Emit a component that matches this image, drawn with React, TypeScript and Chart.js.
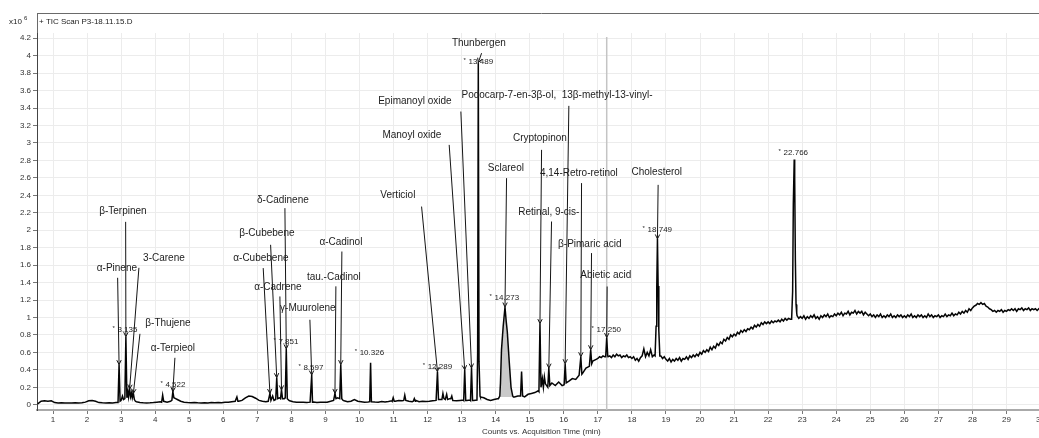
import React, { useEffect, useRef } from "react";
import { Chart, registerables } from "chart.js";

Chart.register(...registerables);

const FONT = "'Liberation Sans', Arial, Helvetica, sans-serif";

const chartTitle = "+ TIC Scan P3-18.11.15.D";
const yUnitBase = "x10";
const yUnitExp = "6";
const xAxisTitle = "Counts vs. Acquisition Time (min)";

const X_MIN = 0.53;
const X_MAX = 30.15;
const Y_MIN = -0.06;
const Y_MAX = 4.26;

const xTickValues = [1, 2, 3, 4, 5, 6, 7, 8, 9, 10, 11, 12, 13, 14, 15, 16, 17, 18, 19, 20, 21, 22, 23, 24, 25, 26, 27, 28, 29, 30];
const yTickValues = [0, 0.2, 0.4, 0.6, 0.8, 1, 1.2, 1.4, 1.6, 1.8, 2, 2.2, 2.4, 2.6, 2.8, 3, 3.2, 3.4, 3.6, 3.8, 4, 4.2];

// Baseline samples, segment A: from 0.55 min every 0.1 min (counts x10^6)
const SEG_A_START = 0.55;
const SEG_A_STEP = 0.1;
const segACounts: (number | null)[] = [
  0.01, 0.04, 0.045, 0.04, 0.045, 0.025, 0.02, 0.022, 0.02, 0.021,
  0.02, 0.022, 0.02, 0.022, 0.03, 0.045, 0.05, 0.04, 0.025, 0.022,
  0.02, 0.022, 0.02, 0.025, 0.03, 0.06, 0.07, 0.07, 0.06, 0.035,
  0.025, 0.022, 0.02, 0.022, 0.025, 0.03, 0.035, 0.04, 0.03, 0.04,
  0.07, 0.06, 0.04, 0.03, 0.025, 0.022, 0.025, 0.022, 0.02, 0.022,
  0.02, 0.025, 0.022, 0.025, 0.022, 0.03, 0.028, 0.035, 0.04, 0.04,
  0.05, 0.08, 0.1, 0.095, 0.075, 0.05, 0.04, 0.035, 0.04, 0.06,
  0.06, 0.07, 0.06, 0.06, 0.045, 0.035, 0.03, 0.028, 0.03, 0.026,
  0.03, 0.032, 0.026, 0.03, 0.028, 0.03, 0.04, 0.05, 0.07, 0.06,
  0.045, 0.035, 0.04, 0.06, 0.04, 0.035, 0.03, 0.032, 0.035, 0.032,
  0.03, 0.038, 0.032, 0.038, 0.045, 0.04, 0.05, 0.045, 0.05, 0.04,
  0.035, 0.05, 0.035, 0.04, 0.038, 0.04, 0.045, 0.05, 0.06, 0.07,
  0.06, 0.07, 0.05, 0.045, 0.05, 0.055, 0.05, 0.055, 0.05, 0.055,
  0.09, 0.08, 0.06, 0.05, 0.06, 0.07, null, null, null, null,
  0.09, 0.1, 0.1, 0.09, 0.12, 0.13, 0.14, 0.16, 0.2, 0.24,
  0.2, 0.25, 0.22, 0.26, 0.22, 0.26, 0.27, 0.3, 0.29, 0.34,
  0.36, 0.42, 0.44, 0.5, 0.52,
];

// Baseline samples, segment B: from 17.0 min every 0.05 min
const SEG_B_START = 17.0;
const SEG_B_STEP = 0.05;
const segBCounts: (number | null)[] = [
  0.53, 0.55, 0.54, 0.56, 0.55, 0.57, 0.55, 0.56, 0.54, 0.57, 0.55, 0.58, 0.56, 0.57, 0.54, 0.56, 0.55, 0.57, 0.54, 0.55,
  0.53, 0.55, 0.51, 0.53, 0.5, 0.54, 0.56, 0.64, 0.55, 0.6, 0.56, 0.63, 0.55, 0.57, null, null, null, 0.56, 0.53, 0.55,
  0.52, 0.5, 0.53, 0.49, 0.52, 0.5, 0.53, 0.51, 0.54, 0.5, 0.53, 0.52, 0.55, 0.52, 0.56, 0.54, 0.57, 0.55, 0.58, 0.56,
  0.6, 0.58, 0.62, 0.6, 0.63, 0.61, 0.66, 0.63, 0.67, 0.65, 0.7, 0.68, 0.72, 0.7, 0.75, 0.73, 0.77, 0.75, 0.8, 0.78,
  0.81, 0.79, 0.83, 0.81, 0.85, 0.83, 0.86, 0.84, 0.87, 0.86, 0.89, 0.87, 0.91, 0.89, 0.92, 0.9, 0.94, 0.92, 0.95, 0.93,
  0.95, 0.93, 0.96, 0.94, 0.96, 0.95, 0.97, 0.95, 0.98, 0.96, 0.99, 0.97, 0.99, 0.98, null, null, null, 1.02, 0.99, 1.01,
  0.99, 1.02, 0.98, 1.01, 0.99, 1.02, 1.0, 1.03, 0.99, 1.01, 0.98, 1.02, 1.0, 1.03, 1.01, 1.04, 1.0, 1.02, 1.01, 1.04,
  1.02, 1.05, 1.03, 1.06, 1.02, 1.05, 1.04, 1.07, 1.03, 1.06, 1.05, 1.08, 1.04, 1.07, 1.05, 1.07, 1.03, 1.06, 1.04, 1.02,
  1.04, 1.01, 1.03, 1.0, 1.03, 1.01, 1.04, 1.0, 1.02, 1.0, 1.03, 1.01, 1.04, 1.0, 1.02, 1.0, 1.03, 1.01, 1.03, 1.0,
  1.02, 1.0, 1.03, 1.01, 1.04, 1.0, 1.02, 1.0, 1.03, 1.01, 1.03, 1.0, 1.02, 1.0, 1.04, 1.01, 1.03, 1.0, 1.02, 1.01,
  1.03, 1.0, 1.02, 1.01, 1.04, 1.01, 1.03, 1.02, 1.05, 1.02, 1.04, 1.03, 1.06, 1.04, 1.07, 1.05, 1.08, 1.06, 1.1, 1.08,
  1.11, 1.13, 1.14, 1.16, 1.15, 1.17, 1.15, 1.16, 1.13, 1.12, 1.1, 1.09, 1.07, 1.08, 1.06, 1.08, 1.07, 1.09, 1.06, 1.08,
  1.07, 1.09, 1.08, 1.1, 1.08, 1.1, 1.07, 1.1, 1.09, 1.11, 1.08, 1.1, 1.09, 1.11, 1.08, 1.1, 1.09, 1.1, 1.08, 1.1,
  1.09, 1.1, 1.08, 1.09,
];

// Peaks: explicit [time, counts] points
const peakPoints: [number, number][][] = [
  [[2.91, 0.025], [2.94, 0.46], [2.97, 0.04], [3.0, 0.05], [3.04, 0.1], [3.07, 0.06], [3.11, 0.07], [3.14, 0.78], [3.17, 0.08], [3.2, 0.15], [3.22, 0.09], [3.25, 0.18], [3.28, 0.09], [3.31, 0.14], [3.33, 0.08], [3.36, 0.13], [3.39, 0.06], [3.42, 0.04]],
  [[4.19, 0.03], [4.22, 0.11], [4.25, 0.04]],
  [[4.49, 0.05], [4.52, 0.15], [4.55, 0.08], [4.6, 0.07]],
  [[6.37, 0.04], [6.4, 0.09], [6.43, 0.04]],
  [[7.32, 0.04], [7.37, 0.13], [7.4, 0.05], [7.45, 0.1], [7.49, 0.05], [7.54, 0.06], [7.57, 0.31], [7.6, 0.07], [7.65, 0.08], [7.68, 0.07], [7.71, 0.17], [7.74, 0.07], [7.79, 0.07], [7.82, 0.08], [7.85, 0.64], [7.88, 0.07], [7.93, 0.05]],
  [[8.57, 0.03], [8.597, 0.34], [8.62, 0.03]],
  [[9.24, 0.05], [9.28, 0.13], [9.31, 0.07], [9.36, 0.08], [9.42, 0.07], [9.45, 0.46], [9.48, 0.07], [9.52, 0.05]],
  [[10.3, 0.035], [10.326, 0.48], [10.35, 0.035]],
  [[10.96, 0.04], [10.99, 0.08], [11.02, 0.04]],
  [[11.3, 0.05], [11.33, 0.11], [11.36, 0.05]],
  [[11.58, 0.04], [11.61, 0.07], [11.64, 0.04]],
  [[12.26, 0.05], [12.29, 0.38], [12.32, 0.06]],
  [[12.42, 0.06], [12.45, 0.13], [12.48, 0.07], [12.52, 0.06], [12.56, 0.12], [12.59, 0.06]],
  [[12.68, 0.07], [12.71, 0.1], [12.74, 0.05]],
  [[13.06, 0.05], [13.09, 0.4], [13.12, 0.05]],
  [[13.26, 0.05], [13.29, 0.42], [13.32, 0.05]],
  [[13.45, 0.055], [13.47, 0.6], [13.489, 3.92], [13.51, 0.5], [13.54, 0.1]],
  [[14.08, 0.07], [14.12, 0.1], [14.14, 0.25], [14.17, 0.63], [14.22, 0.9], [14.273, 1.12], [14.31, 0.95], [14.34, 0.84], [14.4, 0.48], [14.45, 0.2], [14.5, 0.1], [14.52, 0.09]],
  [[14.73, 0.1], [14.76, 0.38], [14.79, 0.1]],
  [[15.27, 0.15], [15.3, 0.93], [15.33, 0.2], [15.37, 0.3], [15.4, 0.2], [15.43, 0.32], [15.46, 0.24]],
  [[15.53, 0.2], [15.56, 0.42], [15.59, 0.22]],
  [[16.01, 0.23], [16.04, 0.47], [16.07, 0.25]],
  [[16.47, 0.34], [16.5, 0.55], [16.53, 0.35]],
  [[16.76, 0.44], [16.79, 0.63], [16.82, 0.47]],
  [[17.23, 0.55], [17.26, 0.77], [17.29, 0.56]],
  [[18.68, 0.56], [18.71, 0.9], [18.73, 1.35], [18.75, 1.9], [18.77, 1.36], [18.79, 0.85], [18.82, 0.56]],
  [[22.69, 0.98], [22.72, 1.3], [22.74, 2.3], [22.766, 2.81], [22.78, 2.6], [22.8, 1.66], [22.82, 1.15], [22.84, 1.05]],
];

// Integrated (shaded) peak
const shadedRange = [14.08, 14.52];
const shadedFloor = 0.09;

// Cursor line position (min)
const cursorTime = 17.26;

// Compound annotations: [name, peak time, peak counts, label time, label counts, leader start time, leader start counts]
const compoundAnnotations: [string, number, number, number, number, number, number][] = [
  ["α-Pinene", 2.94, 0.46, 2.877, 1.569, 2.898, 1.455],
  ["β-Terpinen", 3.14, 0.78, 3.053, 2.222, 3.133, 2.096],
  ["3-Carene", 3.25, 0.18, 4.257, 1.684, 3.523, 1.569],
  ["β-Thujene", 3.36, 0.13, 4.375, 0.939, 3.553, 0.813],
  ["α-Terpieol", 4.52, 0.15, 4.521, 0.653, 4.58, 0.538],
  ["α-Cubebene", 7.37, 0.13, 7.105, 1.684, 7.173, 1.566],
  ["β-Cubebene", 7.57, 0.31, 7.281, 1.97, 7.39, 1.833],
  ["α-Cadrene", 7.71, 0.17, 7.604, 1.352, 7.663, 1.241],
  ["δ-Cadinene", 7.85, 0.64, 7.751, 2.348, 7.81, 2.253],
  ["γ-Muurolene", 8.597, 0.34, 8.485, 1.111, 8.544, 0.974],
  ["tau.-Cadinol", 9.28, 0.13, 9.248, 1.466, 9.307, 1.357],
  ["α-Cadinol", 9.45, 0.46, 9.454, 1.867, 9.483, 1.756],
  ["Verticiol", 12.29, 0.38, 11.127, 2.405, 11.823, 2.271],
  ["Manoyl oxide", 13.09, 0.4, 11.538, 3.093, 12.634, 2.978],
  ["Epimanoyl oxide", 13.29, 0.42, 11.627, 3.482, 12.977, 3.36],
  ["Thunbergen", 13.489, 3.92, 13.505, 4.147, 13.585, 4.029],
  ["Podocarp-7-en-3β-ol,  13β-methyl-13-vinyl-", 16.04, 0.47, 15.8, 3.551, 16.148, 3.425],
  ["Cryptopinon", 15.3, 0.93, 15.297, 3.058, 15.347, 2.921],
  ["Sclareol", 14.273, 1.12, 14.298, 2.715, 14.319, 2.597],
  ["Retinal, 9-cis-", 15.56, 0.42, 15.561, 2.211, 15.64, 2.1],
  ["4,14-Retro-retinol", 16.5, 0.55, 16.441, 2.657, 16.521, 2.54],
  ["β-Pimaric acid", 16.79, 0.63, 16.764, 1.844, 16.814, 1.738],
  ["Abietic acid", 17.26, 0.77, 17.234, 1.489, 17.273, 1.355],
  ["Cholesterol", 18.75, 1.9, 18.731, 2.669, 18.77, 2.52],
];

// Retention time labels: [text, time, counts]
const retentionLabels: [string, number, number][] = [
  ["3.135", 3.127, 0.859],
  ["4.522", 4.536, 0.229],
  ["7.851", 7.854, 0.722],
  ["8.597", 8.588, 0.424],
  ["10.326", 10.305, 0.596],
  ["12.289", 12.302, 0.435],
  ["13.489", 13.505, 3.932],
  ["14.273", 14.269, 1.226],
  ["17.250", 17.263, 0.859],
  ["18.749", 18.761, 2.005],
  ["22.766", 22.754, 2.887],
];

type Pt = { x: number; y: number };

function buildTrace(): Pt[] {
  const windows = peakPoints.map((p) => [p[0][0], p[p.length - 1][0]]);
  const inPeak = (t: number) => windows.some(([a, b]) => t >= a && t <= b);
  const pts: Pt[] = [];
  segACounts.forEach((v, i) => {
    const t = Math.round((SEG_A_START + i * SEG_A_STEP) * 1000) / 1000;
    if (v !== null && !inPeak(t)) pts.push({ x: t, y: v });
  });
  segBCounts.forEach((v, i) => {
    const t = Math.round((SEG_B_START + i * SEG_B_STEP) * 1000) / 1000;
    if (v !== null && !inPeak(t)) pts.push({ x: t, y: v });
  });
  peakPoints.forEach((p) => p.forEach(([t, v]) => pts.push({ x: t, y: v })));
  pts.sort((a, b) => a.x - b.x);
  return pts;
}

const framePlugin = {
  id: "frame",
  beforeDraw(chart: any) {
    const { ctx, width, height, chartArea } = chart;
    ctx.save();
    ctx.fillStyle = "#ffffff";
    ctx.fillRect(0, 0, width, height);
    ctx.strokeStyle = "#6a6a6a";
    ctx.lineWidth = 1;
    ctx.beginPath();
    ctx.moveTo(chartArea.left, 13.5);
    ctx.lineTo(width, 13.5);
    ctx.moveTo(chartArea.left + 0.5, 13);
    ctx.lineTo(chartArea.left + 0.5, chartArea.top);
    ctx.stroke();
    ctx.fillStyle = "#222";
    ctx.font = `8px ${FONT}`;
    ctx.textBaseline = "middle";
    ctx.textAlign = "left";
    ctx.fillText(chartTitle, chartArea.left + 2, 22);
    ctx.textAlign = "right";
    ctx.fillText(yUnitBase, 22, 22);
    ctx.font = `6px ${FONT}`;
    ctx.textAlign = "left";
    ctx.fillText(yUnitExp, 24, 18);
    ctx.restore();
  },
};

const cursorPlugin = {
  id: "cursor",
  beforeDatasetsDraw(chart: any) {
    const { ctx, chartArea, scales } = chart;
    const x = scales.x.getPixelForValue(cursorTime);
    ctx.save();
    ctx.strokeStyle = "#c4c4c4";
    ctx.lineWidth = 1.5;
    ctx.beginPath();
    ctx.moveTo(x, chartArea.top + 4);
    ctx.lineTo(x, chartArea.bottom);
    ctx.stroke();
    ctx.restore();
  },
};

const annotationPlugin = {
  id: "annotations",
  afterDatasetsDraw(chart: any) {
    const { ctx, scales, chartArea } = chart;
    const xs = scales.x;
    const ys = scales.y;
    ctx.save();
    ctx.strokeStyle = "#151515";
    ctx.lineWidth = 1;
    for (const [, pT, pV, , , lT, lV] of compoundAnnotations) {
      const px = xs.getPixelForValue(pT);
      const py = ys.getPixelForValue(pV);
      const sx = xs.getPixelForValue(lT);
      const sy = ys.getPixelForValue(lV);
      const dx = px - sx;
      const dy = py - sy;
      const len = Math.hypot(dx, dy) || 1;
      const ux = dx / len;
      const uy = dy / len;
      ctx.beginPath();
      ctx.moveTo(sx, sy);
      ctx.lineTo(px, py);
      ctx.moveTo(px - ux * 4.5 - uy * 2.2, py - uy * 4.5 + ux * 2.2);
      ctx.lineTo(px, py);
      ctx.lineTo(px - ux * 4.5 + uy * 2.2, py - uy * 4.5 - ux * 2.2);
      ctx.stroke();
    }
    ctx.fillStyle = "#1c1c1c";
    ctx.textAlign = "center";
    ctx.textBaseline = "middle";
    ctx.font = `10px ${FONT}`;
    for (const [name, , , tT, tV] of compoundAnnotations) {
      ctx.fillText(name, xs.getPixelForValue(tT), ys.getPixelForValue(tV));
    }
    ctx.font = `8px ${FONT}`;
    for (const [txt, t, v] of retentionLabels) {
      const cx = xs.getPixelForValue(t);
      const cy = ys.getPixelForValue(v);
      const w = ctx.measureText(txt).width;
      ctx.textAlign = "left";
      ctx.fillText(txt, cx - w / 2 + 2, cy);
      ctx.font = `6px ${FONT}`;
      ctx.fillText("*", cx - w / 2 - 3, cy - 1);
      ctx.font = `8px ${FONT}`;
    }
    ctx.textAlign = "center";
    ctx.font = `8px ${FONT}`;
    ctx.fillStyle = "#333";
    ctx.fillText(xAxisTitle, (chartArea.left + chartArea.right) / 2, 432);
    ctx.restore();
  },
};

export default function App() {
  const canvasRef = useRef<HTMLCanvasElement | null>(null);

  useEffect(() => {
    const canvas = canvasRef.current;
    if (!canvas) return;
    const trace = buildTrace();
    const shaded = trace.filter((p) => p.x >= shadedRange[0] && p.x <= shadedRange[1]);
    const tickFont = { family: FONT, size: 8 };
    const chart = new Chart(canvas, {
      type: "line",
      data: {
        datasets: [
          {
            label: "TIC",
            data: trace,
            borderColor: "#050505",
            borderWidth: 1.5,
            pointRadius: 0,
            fill: false,
            tension: 0,
            order: 0,
          },
          {
            label: "Integrated",
            data: shaded,
            borderWidth: 0,
            borderColor: "rgba(0,0,0,0)",
            backgroundColor: "#c9c9c9",
            pointRadius: 0,
            fill: { value: shadedFloor },
            tension: 0,
            order: 1,
          },
        ],
      },
      options: {
        animation: false,
        responsive: false,
        devicePixelRatio: 1,
        layout: { padding: { top: 33, left: 0, right: 0, bottom: 0 } },
        plugins: {
          legend: { display: false },
          tooltip: { enabled: false },
          title: { display: false },
        },
        scales: {
          x: {
            type: "linear",
            min: X_MIN,
            max: X_MAX,
            afterBuildTicks: (s: any) => {
              s.ticks = xTickValues.map((v) => ({ value: v }));
            },
            afterFit: (s: any) => {
              s.height = 28;
            },
            ticks: {
              font: tickFont,
              color: "#333",
              padding: 1,
              maxRotation: 0,
              autoSkip: false,
              callback: (v: any) => String(v),
            },
            grid: { color: "#ececec", tickLength: 4, tickColor: "#777" },
            border: { color: "#aaaaaa", width: 2 },
          },
          y: {
            type: "linear",
            min: Y_MIN,
            max: Y_MAX,
            afterBuildTicks: (s: any) => {
              s.ticks = yTickValues.map((v) => ({ value: v }));
            },
            afterFit: (s: any) => {
              s.width = 37;
            },
            ticks: {
              font: tickFont,
              color: "#333",
              padding: 2,
              callback: (v: any) => String(Math.round(Number(v) * 10) / 10),
            },
            grid: { color: "#ececec", tickLength: 4, tickColor: "#777" },
            border: { color: "#444", width: 1 },
          },
        },
      } as any,
      plugins: [framePlugin, cursorPlugin, annotationPlugin],
    });
    return () => chart.destroy();
  }, []);

  return (
    <div
      style={{
        position: "fixed",
        left: 0,
        top: 0,
        width: 1039,
        height: 438,
        overflow: "hidden",
        background: "#fff",
      }}
    >
      <canvas ref={canvasRef} width={1046} height={438} style={{ display: "block" }} />
    </div>
  );
}
